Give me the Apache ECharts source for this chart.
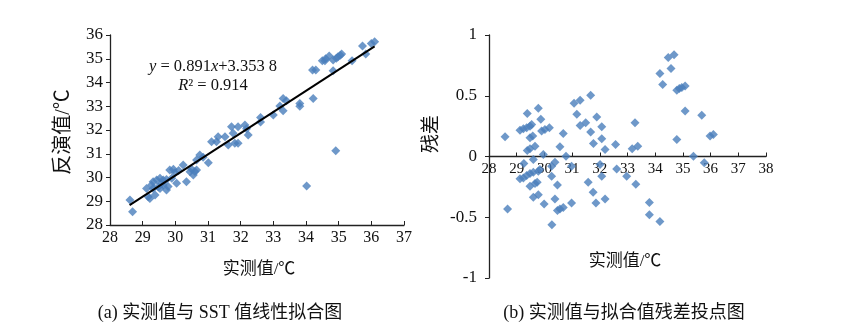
<!DOCTYPE html>
<html><head><meta charset="utf-8">
<script src="https://cdn.jsdelivr.net/npm/echarts@6/dist/echarts.min.js"></script>
<style>html,body{margin:0;padding:0;background:#fff}#c{width:845px;height:328px}</style>
</head><body><div id="c"></div>
<script>
// (a) measured vs inverted (SST) values
const measuredA = [28.61,28.69,29.12,29.17,29.22,29.27,29.32,29.32,29.38,29.43,29.48,29.53,29.53,29.58,29.63,29.63,29.73,29.73,29.78,29.83,29.89,29.94,29.99,30.04,30.10,30.24,30.34,30.45,30.50,30.55,30.60,30.65,30.65,30.75,30.85,31.01,31.11,31.26,31.31,31.52,31.62,31.72,31.77,31.82,31.92,31.92,32.13,32.23,32.18,32.61,32.61,33.00,33.20,33.30,33.30,33.40,33.81,33.81,34.22,34.20,34.30,34.83,34.50,34.58,34.60,34.71,34.83,34.93,34.98,35.05,35.09,35.41,35.83,35.73,36.00,36.10,34.02,34.91];
const invertedA = [29.05,28.56,29.54,29.19,29.12,29.68,29.82,29.54,29.26,29.89,29.60,29.97,29.54,29.75,29.89,29.68,29.92,29.47,29.62,30.32,29.97,30.35,30.20,29.76,30.30,30.53,29.82,30.24,30.35,30.11,30.25,30.32,30.74,30.95,30.85,30.62,31.51,31.51,31.72,31.72,31.37,32.14,31.86,31.44,32.14,31.44,32.21,31.79,32.05,32.53,32.34,32.63,33.01,33.33,32.81,33.23,33.12,33.00,33.33,34.53,34.53,34.50,34.92,34.92,35.00,35.12,34.95,35.02,35.08,35.15,35.20,34.92,35.20,35.54,35.64,35.72,29.64,31.13];
const fitSlope = 0.891, fitIntercept = 3.3538;
const fitRange = [28.6, 36.1];
// (b) measured vs residuals
const measuredB = [28.58,28.67,29.12,29.24,29.36,29.38,29.48,29.54,29.48,29.58,29.38,29.48,29.66,29.78,29.87,29.90,30.02,30.18,29.96,30.56,30.68,30.78,31.07,31.29,31.17,31.29,31.49,31.67,31.67,31.89,31.77,32.07,32.07,32.19,32.57,33.17,33.37,33.27,34.17,34.27,34.47,34.68,34.57,34.78,34.87,34.96,35.08,35.08,34.78,35.68,35.98,36.10,35.38,35.77,29.12,29.24,29.36,29.48,29.60,29.78,29.84,29.48,29.66,29.74,29.60,29.78,29.99,29.26,29.60,30.26,30.38,30.26,30.47,30.38,30.27,30.47,30.56,30.68,30.98,30.98,31.58,31.76,31.86,32.07,32.01,32.19,32.61,32.97,33.30,33.79,33.79,34.17];
const residualB = [0.163,-0.432,0.217,0.229,0.237,0.353,0.25,0.264,0.154,0.168,0.05,0.063,0.085,0.397,0.306,0.209,0.223,0.237,0.017,0.08,0.19,0.002,0.438,0.463,0.347,0.256,0.278,0.504,0.201,0.325,0.107,0.245,0.146,0.058,0.099,0.063,0.085,0.278,0.683,0.592,0.815,0.837,0.725,0.545,0.559,0.568,0.581,0.374,0.14,0.339,0.168,0.182,0.003,-0.052,-0.184,-0.176,-0.157,-0.14,-0.13,-0.121,-0.107,-0.245,-0.223,-0.212,-0.336,-0.314,-0.391,-0.058,-0.025,-0.08,-0.047,-0.163,-0.234,-0.35,-0.562,-0.444,-0.432,-0.419,-0.383,-0.08,-0.212,-0.295,-0.383,-0.163,-0.066,-0.35,-0.102,-0.163,-0.229,-0.378,-0.479,-0.535];
// axis ranges / ticks
const axisA = {xMin:28, xMax:37, yMin:28, yMax:36, step:1};
const axisB = {xMin:28, xMax:38, yMin:-1, yMax:1, xStep:1, yStep:0.5};
const labels = {yA:'反演值/℃', xA:'实测值/℃', yB:'残差', xB:'实测值/℃',
  capA:'(a) 实测值与 SST 值线性拟合图', capB:'(b) 实测值与拟合值残差投点图'};

const FONT = '"Liberation Serif","Noto Sans CJK SC",serif';
const BLUE = '#4a7ebb';
const INK = '#111';
const axisLine = {lineStyle:{color:'#222', width:1.3}};
const lbl = (size, margin) => ({color:INK, fontFamily:FONT, fontSize:size, margin:margin});

// right grid geometry (pixels) used to place the x axis on the zero line
const gridB = {left:489, top:35, width:277, height:243};

const chart = echarts.init(document.getElementById('c'), null, {renderer:'canvas'});
chart.setOption({
  backgroundColor:'#fff',
  animation:false,
  grid:[
    {left:110, top:35, width:294, height:190},
    gridB
  ],
  xAxis:[
    {gridIndex:0, type:'value', min:axisA.xMin, max:axisA.xMax, interval:axisA.step,
     axisLine:axisLine, axisTick:{inside:true, length:4, lineStyle:{color:'#222'}},
     axisLabel:lbl(16, 5), splitLine:{show:false}},
    {gridIndex:1, type:'value', min:axisB.xMin, max:axisB.xMax, interval:axisB.xStep,
     position:'bottom', offset:-gridB.height*(0-axisB.yMin)/(axisB.yMax-axisB.yMin),
     axisLine:Object.assign({onZero:false}, axisLine), axisTick:{inside:true, length:4, lineStyle:{color:'#222'}},
     axisLabel:lbl(15, 5), splitLine:{show:false}}
  ],
  yAxis:[
    {gridIndex:0, type:'value', min:axisA.yMin, max:axisA.yMax, interval:axisA.step,
     axisLine:Object.assign({show:true}, axisLine), axisTick:{show:true, length:4, lineStyle:{color:'#222'}},
     axisLabel:lbl(17, 7), splitLine:{show:false}},
    {gridIndex:1, type:'value', min:axisB.yMin, max:axisB.yMax, interval:axisB.yStep,
     axisLine:Object.assign({show:true}, axisLine), axisTick:{show:true, length:4, lineStyle:{color:'#222'}},
     axisLabel:lbl(17, 12), splitLine:{show:false}}
  ],
  series:[
    {type:'scatter', xAxisIndex:0, yAxisIndex:0, symbol:'diamond', symbolSize:9,
     itemStyle:{color:BLUE}, data:measuredA.map((v,i)=>[v, invertedA[i]])},
    {type:'line', xAxisIndex:0, yAxisIndex:0, symbol:'none', lineStyle:{color:'#000', width:2},
     data:fitRange.map(x=>[x, fitSlope*x+fitIntercept]), z:3},
    {type:'scatter', xAxisIndex:1, yAxisIndex:1, symbol:'diamond', symbolSize:9,
     itemStyle:{color:BLUE}, data:measuredB.map((v,i)=>[v, residualB[i]])}
  ],
  graphic:[
    {type:'text', x:213, y:67, style:{text:'{i|y} = 0.891{i|x}+3.353 8', rich:{i:{fontStyle:'italic', fontFamily:FONT, fontSize:16.5, fill:INK}}, font:'16.5px '+FONT, fill:INK, textAlign:'center', textVerticalAlign:'middle'}},
    {type:'text', x:213, y:86, style:{text:'{i|R}² = 0.914', rich:{i:{fontStyle:'italic', fontFamily:FONT, fontSize:16.5, fill:INK}}, font:'16.5px '+FONT, fill:INK, textAlign:'center', textVerticalAlign:'middle'}},
    {type:'text', x:64, y:132, rotation:Math.PI/2, style:{text:labels.yA, font:'20px '+FONT, fill:INK, textAlign:'center', textVerticalAlign:'middle'}},
    {type:'text', x:259, y:270, style:{text:labels.xA, font:'17px '+FONT, fill:INK, textAlign:'center', textVerticalAlign:'middle'}},
    {type:'text', x:432, y:134, rotation:Math.PI/2, style:{text:labels.yB, font:'19px '+FONT, fill:INK, textAlign:'center', textVerticalAlign:'middle'}},
    {type:'text', x:625, y:262, style:{text:labels.xB, font:'17px '+FONT, fill:INK, textAlign:'center', textVerticalAlign:'middle'}},
    {type:'text', x:220, y:313, style:{text:labels.capA, font:'18px '+FONT, fill:INK, textAlign:'center', textVerticalAlign:'middle'}},
    {type:'text', x:624, y:313, style:{text:labels.capB, font:'18px '+FONT, fill:INK, textAlign:'center', textVerticalAlign:'middle'}}
  ]
});
</script></body></html>
